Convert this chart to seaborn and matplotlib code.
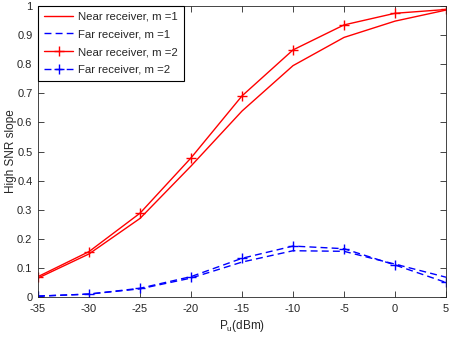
import matplotlib
matplotlib.use("Agg")
import matplotlib.pyplot as plt
import seaborn as sns
import pandas as pd

sns.set_theme(style="white")
plt.rcParams['font.family'] = ['Liberation Sans', 'DejaVu Sans']
plt.rcParams['mathtext.fontset'] = 'custom'
plt.rcParams['mathtext.rm'] = 'Liberation Sans'
plt.rcParams['axes.unicode_minus'] = False

pu = [-35, -30, -25, -20, -15, -10, -5, 0, 5]
near_m1 = [0.065, 0.148, 0.27, 0.45, 0.639, 0.795, 0.892, 0.948, 0.986]
far_m1 = [0.003, 0.01, 0.028, 0.065, 0.12, 0.159, 0.157, 0.113, 0.068]
near_m2 = [0.07, 0.156, 0.288, 0.478, 0.691, 0.849, 0.935, 0.975, 0.988]
far_m2 = [0.003, 0.01, 0.03, 0.07, 0.133, 0.175, 0.166, 0.11, 0.05]
labels = ["Near receiver, m =1", "Far receiver, m =1", "Near receiver, m =2", "Far receiver, m =2"]

fig = plt.figure(figsize=(4.49, 3.38), dpi=100)
ax = fig.add_axes([38/449, 41/338, 408/449, 291/338])

series = [
    (near_m1, 'red', '-', None),
    (far_m1, 'blue', (0, (5, 3)), None),
    (near_m2, 'red', '-', '+'),
    (far_m2, 'blue', (0, (5, 3)), '+'),
]
for (vals, col, ls, mk), lab in zip(series, labels):
    df = pd.DataFrame({'x': pu, 'y': vals})
    kw = {}
    if mk:
        kw = dict(marker=mk, markersize=7, markeredgewidth=1.0,
                  markeredgecolor=col, markerfacecolor=col)
    sns.lineplot(data=df, x='x', y='y', ax=ax, color=col, linestyle=ls,
                 linewidth=1.0, label=lab, **kw)

ax.set_xlim(-35, 5)
ax.set_ylim(0, 1)
ax.set_xticks(pu)
ax.set_yticks([0, 0.1, 0.2, 0.3, 0.4, 0.5, 0.6, 0.7, 0.8, 0.9, 1])
ax.set_yticklabels(['0', '0.1', '0.2', '0.3', '0.4', '0.5', '0.6', '0.7', '0.8', '0.9', '1'])
ax.tick_params(direction='in', length=4, width=0.6, colors='#262626', labelsize=8,
               top=True, right=True, bottom=True, left=True)
ax.tick_params(axis='x', pad=5)
ax.tick_params(axis='y', pad=4)
for s in ax.spines.values():
    s.set_color('#262626')
    s.set_linewidth(0.6)
ax.set_xlabel(r'P$_{\mathrm{u}}$(dBm)', fontsize=8.5, color='#262626', labelpad=3)
ax.set_ylabel('High SNR slope', fontsize=8.5, color='#262626')
ax.yaxis.set_label_coords(-0.051, 0.5)

leg = ax.legend(loc='upper left', fontsize=8.2, frameon=True, fancybox=False,
                borderaxespad=0, handlelength=2.6, labelspacing=0.68,
                borderpad=0.5, handletextpad=0.45)
leg.get_frame().set_edgecolor('black')
leg.get_frame().set_linewidth(0.8)
leg.get_frame().set_alpha(1)

fig.savefig('out.png', dpi=100)
